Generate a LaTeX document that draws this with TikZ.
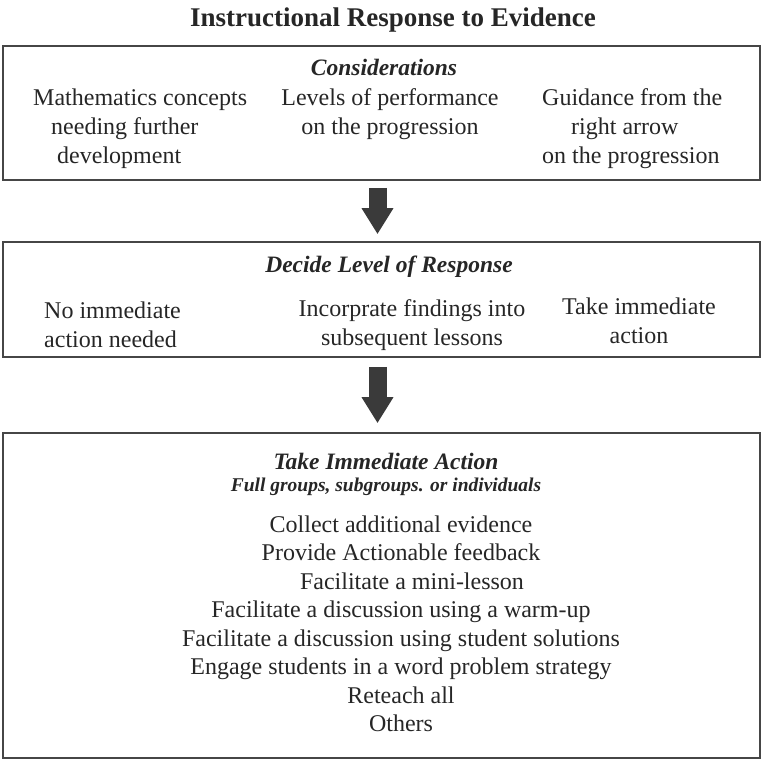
\documentclass[tikz,border=0pt]{standalone}
\usepackage{fontspec}
\setmainfont{Liberation Serif}
\usetikzlibrary{arrows.meta,positioning}
\definecolor{framegray}{RGB}{70,70,70}
\definecolor{arrowgray}{RGB}{58,58,58}
\definecolor{inkgray}{RGB}{38,38,38}
\tikzset{
  panel/.style={draw=framegray, line width=1.6pt, minimum width=757pt, inner sep=0pt},
  heading/.style={text=inkgray, inner sep=0pt, font=\fontsize{23.5}{28}\selectfont\bfseries\itshape},
  subheading/.style={text=inkgray, inner sep=0pt, font=\fontsize{19.5}{23}\selectfont\bfseries\itshape},
  entry/.style={text=inkgray, inner sep=0pt, font=\fontsize{24}{29}\selectfont},
  blockarrow/.style={draw=arrowgray, line width=18pt, -{Triangle[width=30pt,length=26pt]}},
}
\newcommand{\indentby}[1]{\hspace*{#1pt}}

\begin{document}
\begin{tikzpicture}[x=1pt,y=-1pt]
  \useasboundingbox (0,0) rectangle (762,760);
  \node[text=inkgray, font=\fontsize{27}{32}\selectfont\bfseries] (title) at (393,20) {Instructional Response to Evidence};

  % three panels
  \node[panel, minimum height=134pt] (cons) at (381.5,113) {};
  \node[panel, minimum height=115pt] (decide) at (381.5,299.5) {};
  \node[panel, minimum height=325pt] (action) at (381.5,595.5) {};

  % considerations
  \node[heading] (consh) at (384,67) {Considerations};
  \node[entry, align=left, anchor=west] (concepts) at (33,129)
    {Mathematics concepts\\\indentby{18}needing further\\\indentby{24}development};
  \node[entry, align=center] (levels) at (390,114.5) {Levels of performance\\on the progression};
  \node[entry, align=left, anchor=west] (guidance) at (542,129)
    {Guidance from the\\\indentby{29}right arrow\\on the progression};

  % level of response
  \node[heading] (decideh) at (389,267) {Decide Level of Response};
  \node[entry, align=left, anchor=west] (noaction) at (44,325) {No immediate\\action needed};
  \node[entry, align=center] (incorp) at (412,325) {Incorprate findings into\\subsequent lessons};
  \node[entry, align=center] (takeact) at (639,320.5) {Take immediate\\action};

  % immediate action
  \node[heading] (actionh) at (386,461) {Take Immediate Action};
  \node[subheading] (groups) at (386,487) {Full groups, subgroups. or individuals};
  \node[entry, align=center, font=\fontsize{24}{28.5}\selectfont] (options) at (401,624)
    {Collect additional evidence\\
     Provide Actionable feedback\\
     \indentby{22}Facilitate a mini-lesson\\
     Facilitate a discussion using a warm-up\\
     Facilitate a discussion using student solutions\\
     Engage students in a word problem strategy\\
     Reteach all\\
     Others};

  \draw[blockarrow] ([xshift=-4pt,yshift=-7pt]cons.south) -- ([xshift=-4pt,yshift=7pt]decide.north);
  \draw[blockarrow] ([xshift=-4pt,yshift=-9pt]decide.south) -- ([xshift=-4pt,yshift=9pt]action.north);
\end{tikzpicture}
\end{document}
